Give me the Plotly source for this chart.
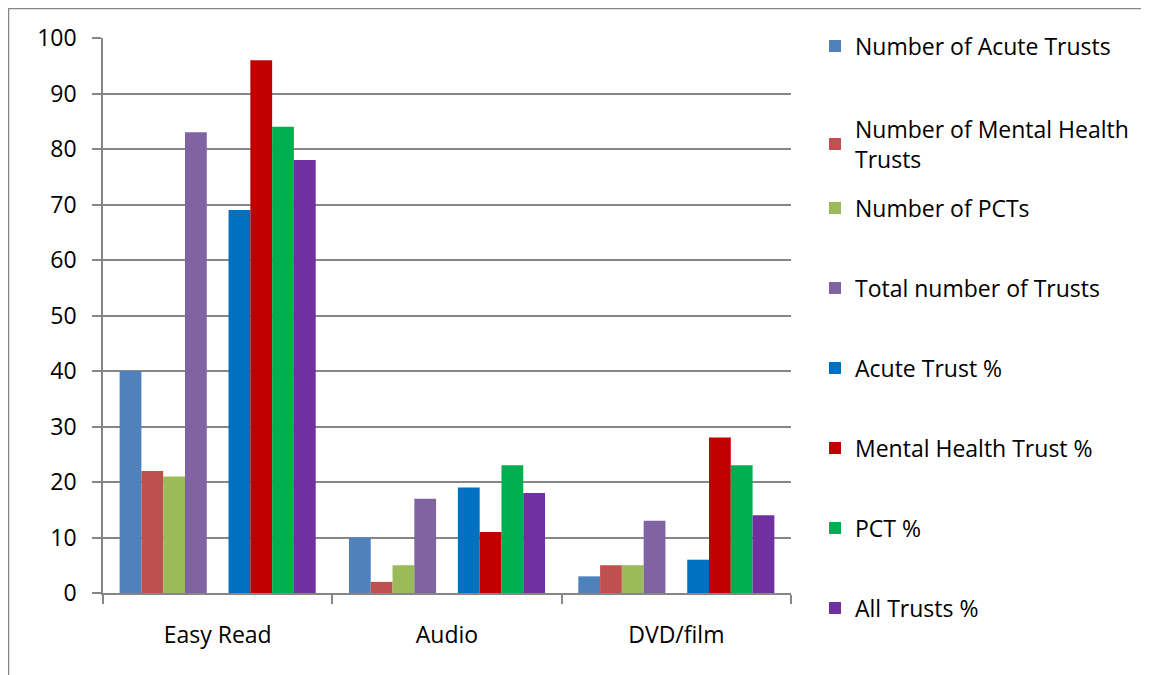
import plotly.graph_objects as go

categories = ["Easy Read", "Audio", "DVD/film"]

series_names = [
    "Number of Acute Trusts",
    "Number of Mental Health<br>Trusts",
    "Number of PCTs",
    "Total number of Trusts",
    "Acute Trust %",
    "Mental Health Trust %",
    "PCT %",
    "All Trusts %",
]
acute_trusts = [40, 10, 3]
mental_health_trusts = [22, 2, 5]
pcts = [21, 5, 5]
total_trusts = [83, 17, 13]
acute_pct = [69, 19, 6]
mental_health_pct = [96, 11, 28]
pct_pct = [84, 23, 23]
all_trusts_pct = [78, 18, 14]

series_values = [acute_trusts, mental_health_trusts, pcts, total_trusts,
                 acute_pct, mental_health_pct, pct_pct, all_trusts_pct]
colors = ["#4F81BD", "#C0504D", "#9BBB59", "#8064A2",
          "#0070C0", "#C00000", "#00B050", "#7030A0"]

# legend text centre positions (pixels from top of window)
legend_centres = [46, 144, 208, 288, 368, 448, 528, 608]

OFF = 8  # page body margin
W, H = 1149 - OFF, 675 - OFF
PL, PT, PR, PB = 103, 38, 791, 593  # plot area in window pixels
ML, MT = PL - OFF, PT - OFF
PW, PH = PR - PL, PB - PT
MR = W - ML - PW
MB = H - MT - PH

def px_x(p):
    return (p - PL) / PW

def px_y(p):
    return (PB - p) / PH

FONT = "Open Sans"
FS = 23
fig = go.Figure()

traces_order = list(range(4)) + [None] + list(range(4, 8))
legend_idx = 0
for idx in traces_order:
    if idx is None:
        fig.add_trace(go.Bar(x=categories, y=[None] * len(categories),
                             showlegend=False, hoverinfo="skip",
                             marker_color="rgba(0,0,0,0)"))
        continue
    legend_idx += 1
    lname = "legend" if legend_idx == 1 else f"legend{legend_idx}"
    fig.add_trace(go.Bar(
        x=categories, y=series_values[idx], name=series_names[idx],
        marker=dict(color=colors[idx], line=dict(width=0)),
        legend=lname,
    ))

layout_legends = {}
for i, cy in enumerate(legend_centres):
    lname = "legend" if i == 0 else f"legend{i + 1}"
    layout_legends[lname] = dict(
        x=px_x(815), y=px_y(cy), xanchor="left", yanchor="middle",
        bgcolor="rgba(0,0,0,0)", borderwidth=0,
        font=dict(family=FONT, size=23, color="#000000"),
        itemwidth=30, itemclick=False, itemdoubleclick=False,
    )

grey = "#868686"
fig.update_layout(
    width=W, height=H,
    margin=dict(l=ML, r=MR, t=MT, b=MB, pad=0),
    paper_bgcolor="white", plot_bgcolor="white",
    barmode="group", bargap=0.145, bargroupgap=0,
    font=dict(family=FONT, size=FS, color="#000000"),
    xaxis=dict(
        showline=True, linecolor=grey, linewidth=1.5,
        ticks="outside", tickson="boundaries", ticklen=9, tickcolor=grey,
        tickwidth=1.5, showgrid=False, ticklabelstandoff=21,
        tickfont=dict(family=FONT, size=FS, color="#000000"),
    ),
    yaxis=dict(
        range=[0, 100], dtick=10, showgrid=True, gridcolor=grey, gridwidth=1.5,
        showline=True, linecolor=grey, linewidth=1.5,
        ticks="outside", ticklen=9, tickcolor=grey, tickwidth=1.5,
        zeroline=False, ticklabelstandoff=11,
        tickfont=dict(family=FONT, size=FS, color="#000000"),
    ),
    shapes=[
        dict(type="line", xref="paper", yref="paper",
             x0=px_x(8), x1=px_x(1160), y0=px_y(8.5), y1=px_y(8.5),
             line=dict(color=grey, width=1.5)),
        dict(type="line", xref="paper", yref="paper",
             x0=px_x(8.5), x1=px_x(8.5), y0=px_y(8.5), y1=px_y(680),
             line=dict(color=grey, width=1.5)),
    ],
    **layout_legends,
)

fig.write_html("out.html")
